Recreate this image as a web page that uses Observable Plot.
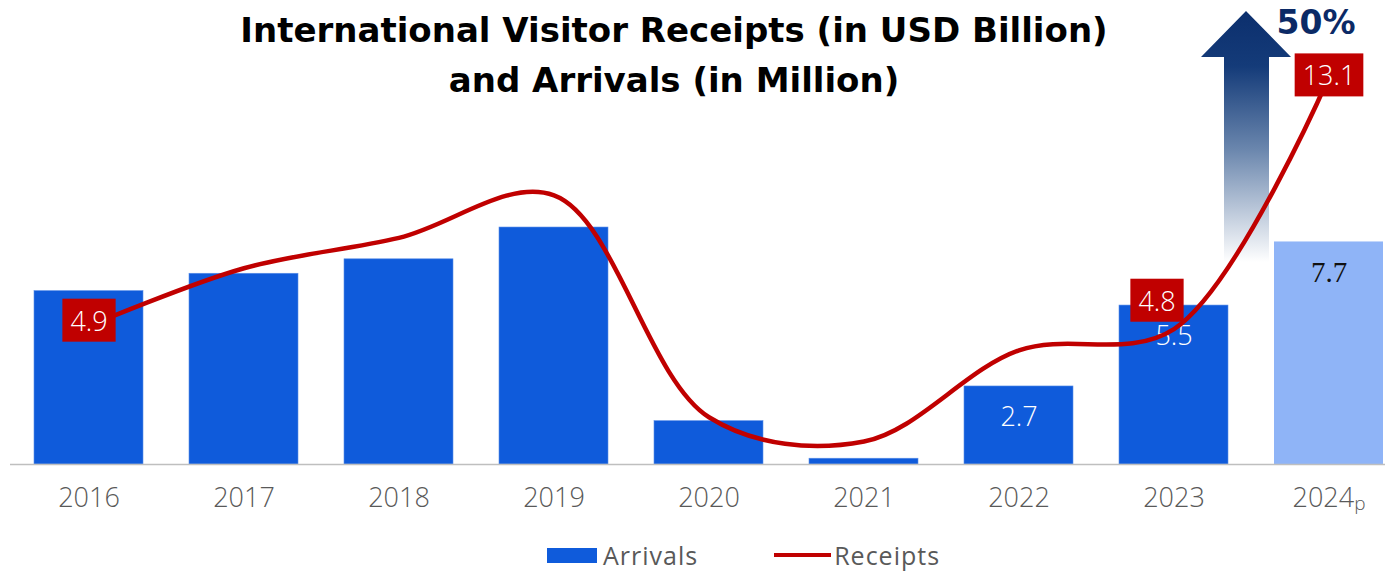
<!DOCTYPE html>
<html>
<head>
<meta charset="utf-8">
<script src="https://cdn.jsdelivr.net/npm/d3@7"></script>
<script src="https://cdn.jsdelivr.net/npm/@observablehq/plot@0.6"></script>
<style>
  html, body { margin: 0; padding: 0; background: #fff; }
  #wrap { position: relative; width: 1395px; height: 573px; font-family: "Open Sans", sans-serif; }
  #title { position: absolute; left: 0; top: 5px; width: 1348px; text-align: center; font-family: "DejaVu Sans", sans-serif; font-weight: 700; font-size: 34px; line-height: 50px; color: #000; z-index: 2; }
  #legend { position: absolute; left: 547px; top: 540px; height: 30px; line-height: 30px; display: flex; align-items: center; font-size: 25px; letter-spacing: 1px; color: #595959; z-index: 2; }
  #legend .sw { display: inline-block; }
  #chart { position: absolute; left: 0; top: 0; }
</style>
</head>
<body>
<div id="wrap">
  <div id="title"></div>
  <div id="chart"></div>
  <div id="legend"></div>
</div>
<script>
// ---- data ----
const years = ["2016", "2017", "2018", "2019", "2020", "2021", "2022", "2023", "2024p"];
const arrivals = [6.0, 6.6, 7.1, 8.2, 1.5, 0.2, 2.7, 5.5, 7.7];
const receipts = [4.9, 6.8, 7.8, 9.2, 1.9, 1.1, 4.1, 4.8, 13.1];
const arrivalLabels = ["", "", "", "", "", "", "2.7", "5.5", "7.7"];
const receiptLabels = ["4.9", "", "", "", "", "", "", "4.8", "13.1"];
const projected = [false, false, false, false, false, false, false, false, true];
const titleLines = ["International Visitor Receipts (in USD Billion)", "and Arrivals (in Million)"];
const seriesNames = ["Arrivals", "Receipts"];
const growthLabel = "50%";

(function () {
const table = years.map((year, i) => ({
  year, arrivals: arrivals[i], receipts: receipts[i],
  aLabel: arrivalLabels[i], rLabel: receiptLabels[i], projected: projected[i]
}));

// secondary axis (receipts) mapped onto the arrivals scale
const rToA = r => (30.4 * r - 10.5) / 28.9;

const BLUE = "#0f5bdb", LIGHT = "#8fb4f7", RED = "#c00000";

document.getElementById("title").innerHTML = titleLines.join("<br>");

const chart = Plot.plot({
  width: 1395,
  height: 573,
  marginLeft: 10,
  marginRight: 10,
  marginTop: 0,
  marginBottom: 109,
  style: { fontFamily: "Open Sans, sans-serif", background: "transparent", overflow: "visible" },
  x: { type: "band", domain: years, range: [10, 1407.4], paddingInner: 0.3, paddingOuter: 0.148, label: null },
  y: { domain: [0, 15], range: [464, 464 - 15 * 28.9], axis: null },
  marks: [
    Plot.barY(table.filter(d => !d.projected), { x: "year", y: "arrivals", fill: BLUE, stroke: "#5b8fe8", strokeWidth: 0.6 }),
    Plot.barY(table.filter(d => d.projected), { x: "year", y: "arrivals", fill: LIGHT }),
    Plot.ruleY([0], { stroke: "#bfbfbf", strokeWidth: 1.5 }),
    Plot.axisX({ tickSize: 0, tickPadding: 23, fontSize: 27, fill: "#595959", fontWeight: 300, className: "xaxis" }),
    Plot.text(table.filter(d => d.aLabel && !d.projected), { x: "year", y: "arrivals", text: "aLabel", dy: 31, fill: "white", fontSize: 27, fontWeight: 300 }),
    Plot.text(table.filter(d => d.aLabel && d.projected), { x: "year", y: "arrivals", text: "aLabel", dy: 31, fill: "#111", fontSize: 29, fontFamily: "Liberation Serif, serif" }),
    Plot.line(table, { x: "year", y: d => rToA(d.receipts), stroke: RED, strokeWidth: 4.5, curve: "catmull-rom" }),
    Plot.text(table.filter(d => d.year === "2016"), { x: "year", y: d => rToA(d.receipts), text: "rLabel", dy: -4, fill: "white", fontSize: 27, fontWeight: 300, className: "rlabel" }),
    Plot.text(table.filter(d => d.year === "2023"), { x: "year", y: d => rToA(d.receipts), text: "rLabel", dx: -17, dy: -27, fill: "white", fontSize: 27, fontWeight: 300, className: "rlabel" }),
    Plot.text(table.filter(d => d.year === "2024p"), { x: "year", y: d => rToA(d.receipts), text: "rLabel", dy: 0, fill: "white", fontSize: 27, fontWeight: 300, className: "rlabel" })
  ]
});
document.getElementById("chart").appendChild(chart);

const svg = d3.select(chart);

// boxes behind receipt labels (same transform as their text)
svg.selectAll("g.rlabel text").each(function () {
  const b = this.getBBox();
  const cy = b.y + b.height / 2;
  const tr = this.getAttribute("transform");
  const r = d3.select(this.parentNode).insert("rect", () => this)
    .attr("x", b.x - 8).attr("y", cy - 21.5)
    .attr("width", b.width + 16).attr("height", 43)
    .attr("fill", RED);
  if (tr) r.attr("transform", tr);
});

// "2024p" tick with small p
svg.selectAll("g.xaxis text").each(function () {
  const t = this.textContent;
  if (t.endsWith("p")) {
    const s = d3.select(this);
    s.text(t.slice(0, -1));
    s.append("tspan").attr("font-size", 19).attr("dy", "0.2em").text("p");
  }
});

// growth arrow annotation
const xs = chart.scale("x");
const step = xs.step !== undefined ? xs.step : xs.bandwidth / 0.7;
const cx = xs.apply("2024p") - (step - xs.bandwidth) / 2 - 5;
const defs = svg.insert("defs", ":first-child");
const grad = defs.append("linearGradient").attr("id", "arrowGrad").attr("x1", 0).attr("y1", 0).attr("x2", 0).attr("y2", 1);
grad.append("stop").attr("offset", "0%").attr("stop-color", "#0c2f6d");
grad.append("stop").attr("offset", "22%").attr("stop-color", "#143b79");
grad.append("stop").attr("offset", "55%").attr("stop-color", "#6a86ad");
grad.append("stop").attr("offset", "100%").attr("stop-color", "#ffffff");
const aTop = 11, headBase = 57, aBottom = 262;
const arrow = svg.append("path")
  .attr("d", `M${cx},${aTop} L${cx + 45},${headBase} L${cx + 23},${headBase} L${cx + 23},${aBottom} L${cx - 22},${aBottom} L${cx - 22},${headBase} L${cx - 45},${headBase} Z`)
  .attr("fill", "url(#arrowGrad)");
svg.append("text").attr("x", cx + 70).attr("y", 22).attr("text-anchor", "middle").attr("dy", "0.36em")
  .attr("font-size", 33).attr("font-weight", 700).attr("fill", "#0b2a66").attr("font-family", "DejaVu Sans, sans-serif")
  .text(growthLabel);
// put the arrow underneath the plot marks
const firstG = chart.querySelector("g");
chart.insertBefore(arrow.node(), firstG);

// legend
const lg = d3.select("#legend");
lg.append("span").attr("class", "sw").style("width", "50px").style("height", "15px").style("background", BLUE).style("margin-right", "6px");
lg.append("span").text(seriesNames[0]).style("margin-right", "76px");
lg.append("span").attr("class", "sw").style("width", "57px").style("height", "4px").style("background", RED).style("margin-right", "3px");
lg.append("span").text(seriesNames[1]);
})();
</script>
</body>
</html>
